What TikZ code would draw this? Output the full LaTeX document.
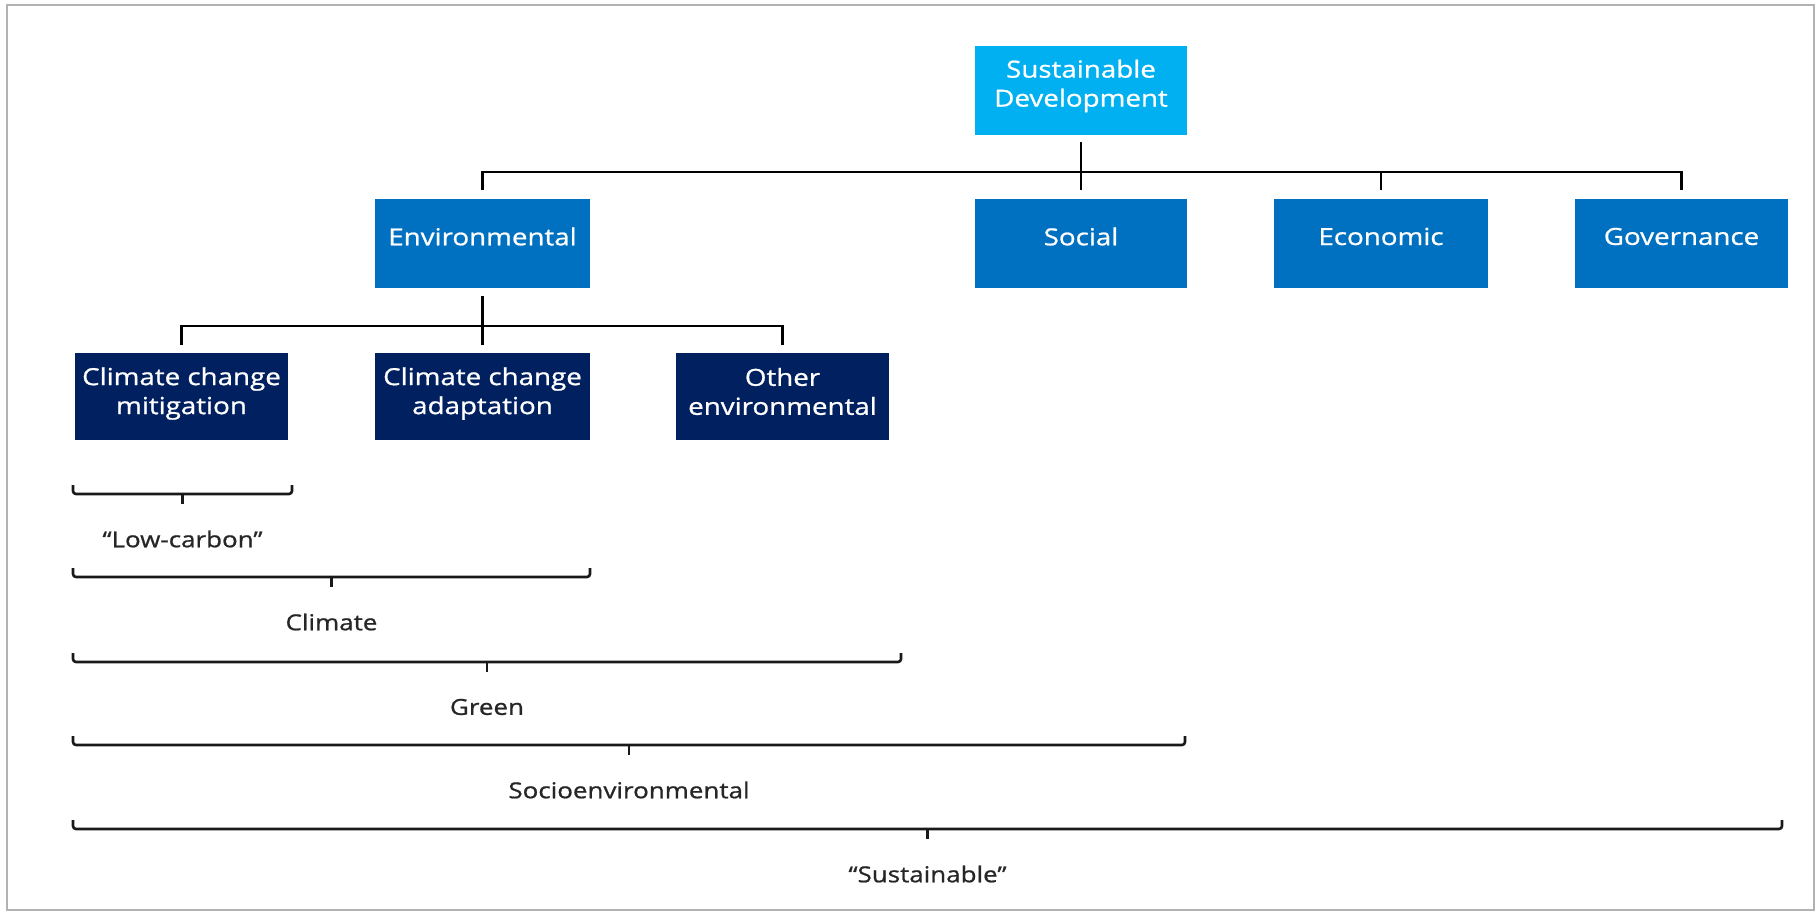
\documentclass[tikz,border=0pt]{standalone}
\usepackage{fontspec}
\setmainfont{Open Sans}[FakeStretch=1.18,FakeBold=0.9]
\definecolor{sdcol}{HTML}{00B0F0}
\definecolor{lvltwo}{HTML}{0070C0}
\definecolor{lvlthree}{HTML}{002060}
\newcommand\mybrk[5]{%
  \draw[brk] (#1,#3-9) -- (#1,#3) -- (#2,#3) -- (#2,#3-9);
  \draw[brk] ({(#1+#2)/2},#3) -- ({(#1+#2)/2},#3+10);
  \node[lbl] (#4) at ({(#1+#2)/2},#3+45) {#5};}
\begin{document}
\begin{tikzpicture}[x=1pt,y=-1pt,
  box/.style={minimum height=88pt, inner sep=0pt},
  boxtxt/.style={text=white, align=center, font=\fontsize{23.5}{29}\selectfont, yshift=#1},
  boxtxt/.default=7pt,
  conn/.style={line width=2.8pt, black},
  brk/.style={line width=2.6pt, black!90, rounded corners=3pt},
  lbl/.style={font=\fontsize{22}{26}\selectfont, text=black!85, inner sep=0pt}]
\useasboundingbox (0,0) rectangle (1820,920);
\draw[gray!60, line width=1.5pt] (7,5) rectangle (1814,910);

% top
\node[box, fill=sdcol, minimum width=212pt, minimum height=89pt,
  label={[boxtxt=4.5pt]center:Sustainable\\Development}] (sd) at (1081,90.5) {};
% level 2
\node[box, fill=lvltwo, minimum width=215pt, label={[boxtxt]center:Environmental}] (env) at (482.5,243.5) {};
\node[box, fill=lvltwo, minimum width=212pt, label={[boxtxt]center:Social}] (soc) at (1081,243.5) {};
\node[box, fill=lvltwo, minimum width=214pt, label={[boxtxt]center:Economic}] (eco) at (1381,243.5) {};
\node[box, fill=lvltwo, minimum width=213pt, label={[boxtxt]center:Governance}] (gov) at (1681.5,243.5) {};
% level 3
\node[box, fill=lvlthree, minimum width=213pt, minimum height=87pt, label={[boxtxt=3pt]center:Climate change\\mitigation}] (mit) at (181.5,396.5) {};
\node[box, fill=lvlthree, minimum width=215pt, minimum height=87pt, label={[boxtxt=3pt]center:Climate change\\adaptation}] (ada) at (482.5,396.5) {};
\node[box, fill=lvlthree, minimum width=213pt, minimum height=87pt, label={[boxtxt=5pt]center:Other\\environmental}] (oth) at (782.5,396.5) {};

% tree connectors
\coordinate (busone) at (1081,172);
\draw[conn] ([yshift=-7pt]sd.south) -- ([yshift=9pt]soc.north);
\draw[conn] ([yshift=9pt]env.north) -- (env.north |- busone) -- (gov.north |- busone) -- ([yshift=9pt]gov.north);
\draw[conn] (eco.north |- busone) -- ([yshift=9pt]eco.north);
\coordinate (bustwo) at (482.5,326);
\draw[conn] ([yshift=-8pt]env.south) -- ([yshift=8pt]ada.north);
\draw[conn] ([yshift=8pt]mit.north) -- (mit.north |- bustwo) -- (oth.north |- bustwo) -- ([yshift=8pt]oth.north);

% brackets
\mybrk{73}{292}{494}{lowc}{“Low-carbon”}
\mybrk{73}{590}{577}{clim}{Climate}
\mybrk{73}{901}{662}{green}{Green}
\mybrk{73}{1185}{745}{socio}{Socioenvironmental}
\mybrk{73}{1782}{829}{sust}{“Sustainable”}
\end{tikzpicture}
\end{document}
